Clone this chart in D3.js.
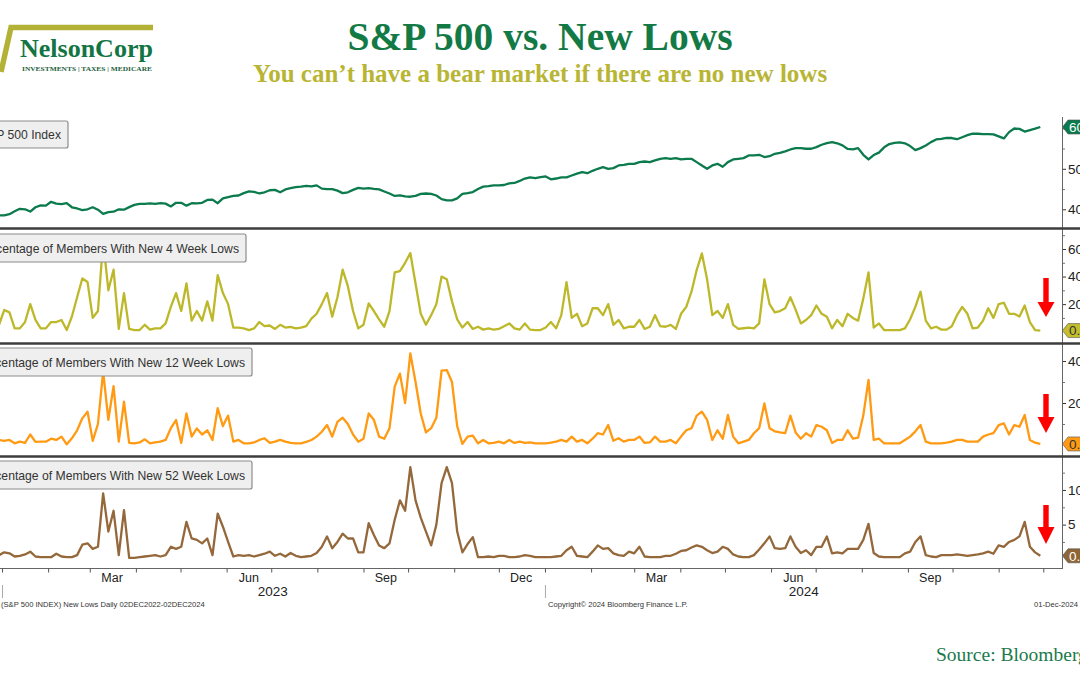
<!DOCTYPE html>
<html><head><meta charset="utf-8">
<script src="https://cdn.jsdelivr.net/npm/d3@7"></script>
<style>html,body{margin:0;padding:0;background:#fff;}svg{display:block;}</style>
</head><body>
<svg id="chart" width="1080" height="675"></svg>
<script>
// ---------------- DATA ----------------
const startDate = "2022-12-02";          // first observation
const stepHours = 84;                     // observations every 3.5 days
const snpValues = [
4070,3990,3935,3995,3895,3852,3822,3840,3848,3848,3880,3950,4012,4000,3945,4050,4095,4090,4185,4140,
4130,4150,4050,4020,3980,4000,4050,3990,3889,3930,3940,4000,3990,4054,4110,4136,4136,4145,4136,4150,
4140,4070,4160,4160,4090,4150,4145,4160,4230,4240,4150,4270,4300,4330,4340,4400,4440,4430,4390,4420,
4470,4480,4420,4490,4520,4545,4560,4580,4565,4590,4510,4500,4500,4460,4400,4420,4480,4530,4510,4525,
4505,4490,4440,4390,4330,4345,4320,4310,4330,4380,4390,4380,4340,4250,4220,4220,4270,4380,4400,4425,
4500,4560,4570,4590,4590,4600,4640,4650,4700,4760,4790,4770,4794,4810,4740,4760,4790,4790,4835,4880,
4920,4890,4950,5000,5041,5000,5017,5082,5098,5123,5123,5165,5180,5165,5206,5247,5263,5247,5263,5230,
5247,5247,5165,5082,5000,5082,5123,5050,5165,5230,5247,5263,5329,5329,5345,5290,5310,5370,5395,5430,
5477,5510,5510,5495,5495,5535,5593,5634,5658,5630,5577,5490,5480,5510,5345,5230,5340,5400,5530,5610,
5640,5650,5630,5560,5460,5510,5577,5658,5724,5741,5765,5760,5730,5780,5830,5870,5865,5856,5856,5850,
5800,5750,5905,5995,5985,5920,5955,5990,6032];
const lows4wValues = [
3,5,8,4,3,6,10,8,5,15.7,14,2.4,2.4,7,20,8.5,2.4,2.4,7,7,
8.5,1.2,11,25,38.6,36,10,15,66,30,45,2,28,2,1.2,1.2,5,1.5,2.4,2.4,
6,18,28,15,35,8,15,8,22,8,41,28,20,3,3,2.4,1.2,2.4,7,4,
4.5,2,5,3,3.5,2.4,3,4,9.5,13,20,28,10.9,25,45,33,15,2.4,5,20.5,
15,9,3.6,15,43,44,50,57,35,13,5,12,20,40,38,22,9,3,7,2,
3.6,1.5,2.4,1.5,2,4,6,2.4,1.5,6,1.5,1.2,1.2,3,7,2.4,12,36,10,13,
4,6,17,17,12,20,5,8.5,2.4,3.6,3.6,8.5,2,3.6,12,4,3.6,5,2,13,
18,29,44.7,56.8,38,12,15,10,20,5,2,2.5,3,2.4,6,38,20,14,15,17,
25,16,6,8.5,12,19,13,10.9,2.4,8.5,4,13,10,8,24,43,3,6,1.2,1.2,
1.2,1.2,2.4,9,18,29,8,2.4,3.6,1.5,1.5,4,12,18,13,2.4,3,8,17,10,
20,21,13,13,11,19,7,1.2,0.8];
const lows12wValues = [
2,3,2,1.5,2.5,3,2,1.5,2.4,2,2.4,0.8,1.6,1,5,1.5,1.6,1.6,3,2.4,
4,0.3,3.2,7,12.7,15.9,2,10,35,12,28,1.6,20.6,1,0.8,1.2,2.7,0.8,1.2,1.6,
2.4,8,11.9,1,15,4,7.9,5,7,2.4,17.5,9,14,1.6,2.4,0.8,0.8,1.2,2.4,3.2,
1,1.6,2.4,1.6,1,0.8,0.8,1.5,2.4,4,6.3,9.5,4,11,13,10,5,1.6,3,15,
12,4,3,8,27.8,34,20,43.6,30,15,6,8,13,35.4,35.7,30,9,0.5,4,4.5,
0.8,2.4,0.8,1,1.6,0.8,2.4,1,1.6,1,1.2,0.8,0.8,0.8,1.1,1.6,2.4,1.6,4,1.6,
2.4,0.8,3,5.6,5,9.5,2,3.2,1.6,2.4,2.4,4,1,1.2,4,1.6,1.6,2.4,0.8,4,
7,8,14,15.9,12,2.4,7,3,14.3,4,0.8,1.6,2.4,5.6,8,19.8,8,6.5,6,5.6,
14,6,3,5.6,4,9.5,8.7,7,1,2.4,2.4,7,3,3.5,14,31,2.4,3,0.8,0.8,
0.8,0.8,2.4,4,6.5,9.5,1.6,0.8,0.8,0.8,1.1,1.6,2.4,2.4,1.6,1.6,1.6,4,5,5.6,
9.5,10.3,5,9.5,8.7,14.3,2.4,1.1,0.5];
const lows52wValues = [
0.5,0.8,0.4,0.3,0.6,1.0,0.6,0.4,0.6,1.0,0.86,0.4,0.5,0.7,1.1,0.4,0.3,0.3,0.3,0.8,
0.4,0.3,0.3,0.6,2.1,2.3,1.5,1.8,9.5,4,7,0.6,7.1,0.2,0.2,0.3,0.4,0.5,0.6,0.4,
0.6,1.8,1.5,1.8,5.4,3,2.8,2.3,3,0.6,6.6,4.7,2.5,0.4,0.6,0.5,0.6,0.4,0.6,0.8,
1.1,0.5,0.8,0.4,0.9,0.5,0.3,0.4,0.5,0.9,1.8,3.3,1.6,2.5,3.7,3.0,3.0,1,1,5.2,
3.5,2,1.6,2.3,5.7,8.5,7,13.3,8.5,6,4,2,5,11,13.3,11,4,1,2.2,3.2,
0.3,0.3,0.4,0.3,0.5,0.5,0.3,0.3,0.4,0.6,0.5,0.3,0.3,0.3,0.3,0.4,0.5,1.3,1.8,0.5,
0.4,0.3,1.1,2,1.5,1.6,0.86,0.6,0.5,1.1,0.86,1.8,0.4,0.3,0.3,0.3,0.5,0.5,0.8,1.2,
1.3,1.7,2,1.8,1.3,0.9,1.1,1.8,1.5,0.7,0.4,0.3,0.3,0.6,1.4,2.3,3.3,1.6,1.5,1.6,
3.3,1.8,0.9,1.3,0.6,1.8,1.8,3.3,0.86,1.0,0.86,1.5,1.5,1.5,2.8,5.1,0.9,0.4,0.3,0.3,
0.3,0.3,0.86,1.1,2.5,3.3,0.6,0.4,0.3,0.6,0.6,0.6,0.7,0.6,0.5,0.6,0.7,0.86,1.1,0.8,
2,1.8,2.5,2.8,3.3,5.4,1.8,1,0.5];

const seriesNames = ["S&P 500 Index",
  "Percentage of Members With New 4 Week Lows",
  "Percentage of Members With New 12 Week Lows",
  "Percentage of Members With New 52 Week Lows"];
const lastValueLabels = ["6032.38", "0.81", "0.61", "0.20"];
const snpMajorTicks = [4000, 5000, 6000];
const snpMinorTicks = [4500, 5500];
const lows4wMajorTicks = [20, 40, 60];
const lows4wMinorTicks = [10, 30, 50, 70];
const lows12wMajorTicks = [20, 40];
const lows12wMinorTicks = [10, 30];
const lows52wMajorTicks = [5, 10];
const lows52wMinorTicks = [2.5, 7.5, 12.5];
const quarterLabels = ["Mar", "Jun", "Sep", "Dec", "Mar", "Jun", "Sep"];
const quarterLabelDates = ["2023-03-16","2023-06-16","2023-09-16","2023-12-16","2024-03-16","2024-06-16","2024-09-16"];
const yearLabels = ["2023", "2024"];
const yearLabelDates = ["2023-07-02", "2024-06-23"];
const yearStartDates = ["2023-01-01", "2024-01-01"];

// ---------------- LAYOUT ----------------
const svg = d3.select("#chart");
svg.append("rect").attr("width",1080).attr("height",675).attr("fill","#fff");
const parse = d3.timeParse("%Y-%m-%d");
const t0 = parse(startDate);
const dates = snpValues.map((_, i) => d3.timeHour.offset(t0, stepHours * i));

const x = d3.scaleTime()
  .domain([new Date(2023, 0, 1), new Date(2024, 11, 13, 14)])
  .range([2, 1062]);
const AXIS_X = 1062;

const panels = [
  {vals: snpValues, color:"#0b7a4c", top:118, bottom:228, dom:[3538, 6254], major:snpMajorTicks, minor:snpMinorTicks,
   box:{right:68, top:121, bottom:148}, tagFill:"#0b7a4c", tagText:"#ffffff", arrow:null},
  {vals: lows4wValues, color:"#bdb82a", top:229, bottom:343, dom:[-8.2, 74.5], major:lows4wMajorTicks, minor:lows4wMinorTicks,
   box:{right:246, top:234, bottom:262}, tagFill:"#c4bd2e", tagText:"#333333", arrow:{top:278, split:302, tip:317}},
  {vals: lows12wValues, color:"#ff9a12", top:344, bottom:456, dom:[-5.24, 48.1], major:lows12wMajorTicks, minor:lows12wMinorTicks,
   box:{right:252, top:348, bottom:376}, tagFill:"#ff9a12", tagText:"#333333", arrow:{top:394, split:417, tip:433}},
  {vals: lows52wValues, color:"#94683a", top:457, bottom:568, dom:[-1.26, 14.76], major:lows52wMajorTicks, minor:lows52wMinorTicks,
   box:{right:252, top:461, bottom:489}, tagFill:"#8f6535", tagText:"#ffffff", arrow:{top:505, split:527, tip:544}}
];

const defs = svg.append("defs");
panels.forEach((p, k) => {
  defs.append("clipPath").attr("id","clip"+k).append("rect")
    .attr("x",-60).attr("y",p.top).attr("width",AXIS_X+60).attr("height",p.bottom-p.top);
});

panels.forEach((p, k) => {
  const y = d3.scaleLinear().domain(p.dom).range([p.bottom, p.top]);
  const g = svg.append("g");
  const line = d3.line().x((d,i)=>x(dates[i])).y(d=>y(d)).curve(d3.curveLinear);
  g.append("path").datum(p.vals).attr("clip-path","url(#clip"+k+")")
    .attr("fill","none").attr("stroke",p.color).attr("stroke-width",2.3)
    .attr("stroke-linejoin","round").attr("d",line);

  const lv = p.vals[p.vals.length-1];
  const ty = y(lv);

  // right axis: major ticks with labels (labels hidden where the last-value tag covers them)
  const ax = d3.axisRight(y).tickValues(p.major).tickSize(4).tickPadding(2)
    .tickFormat(d => Math.abs(y(d) - ty) < 12 ? "" : d3.format("d")(d));
  const ag = svg.append("g").attr("transform",`translate(${AXIS_X},0)`).call(ax);
  ag.select(".domain").remove();
  ag.selectAll(".tick line").attr("stroke","#333");
  ag.selectAll(".tick text").attr("font-family","Liberation Sans, Arial, sans-serif")
    .attr("font-size",13.5).attr("fill","#222");
  const mx = d3.axisRight(y).tickValues(p.minor).tickSize(3).tickFormat("");
  const mg = svg.append("g").attr("transform",`translate(${AXIS_X},0)`).call(mx);
  mg.select(".domain").remove();
  mg.selectAll(".tick line").attr("stroke","#777");

  // legend box
  const bx = p.box;
  svg.append("rect").attr("x",-40).attr("y",bx.top).attr("width",bx.right+40).attr("height",bx.bottom-bx.top)
    .attr("rx",2).attr("fill","#efefef").attr("stroke","#8c8c8c").attr("stroke-width",1.2);
  svg.append("text").attr("x",bx.right-7).attr("y",(bx.top+bx.bottom)/2+4.5)
    .attr("text-anchor","end").attr("font-family","Liberation Sans, Arial, sans-serif")
    .attr("font-size",12.2).attr("fill","#333").text(seriesNames[k]);

  // last-value tag
  svg.append("path")
    .attr("d",`M${AXIS_X+0.5},${ty} L${AXIS_X+6},${ty-7} L1090,${ty-7} L1090,${ty+7} L${AXIS_X+6},${ty+7} Z`)
    .attr("fill",p.tagFill).attr("stroke","#555").attr("stroke-width",0.6);
  svg.append("text").attr("x",AXIS_X+7).attr("y",ty+4.8)
    .attr("font-family","Liberation Sans, Arial, sans-serif").attr("font-size",13.5)
    .attr("fill",p.tagText).text(lastValueLabels[k]);

  // red arrow annotation
  if (p.arrow) {
    const a = p.arrow, cx = 1046;
    svg.append("path")
      .attr("d",`M${cx-2.7},${a.top} L${cx+2.7},${a.top} L${cx+2.7},${a.split} L${cx+8.5},${a.split} L${cx},${a.tip} L${cx-8.5},${a.split} L${cx-2.7},${a.split} Z`)
      .attr("fill","#ff0000");
  }
});

// right axis line
svg.append("line").attr("x1",AXIS_X+0.5).attr("x2",AXIS_X+0.5).attr("y1",117).attr("y2",569)
  .attr("stroke","#666").attr("stroke-width",1);

// separators
[228.5, 343.5, 456.5].forEach(yy => {
  svg.append("line").attr("x1",0).attr("x2",1080).attr("y1",yy).attr("y2",yy)
    .attr("stroke","#3d3d3d").attr("stroke-width",2.6);
});

// bottom time axis
const xa = d3.axisBottom(x)
  .tickValues(d3.timeMonth.range(new Date(2023,0,1), new Date(2024,11,14)))
  .tickSize(4).tickFormat("");
const xg = svg.append("g").attr("transform","translate(0,568.5)").call(xa);
xg.select(".domain").attr("stroke","#666").attr("d","M0,0H"+AXIS_X);
xg.selectAll(".tick line").attr("stroke","#555");

svg.append("g").selectAll("text").data(quarterLabels).join("text")
  .attr("x",(d,i)=>x(parse(quarterLabelDates[i]))).attr("y",582)
  .attr("text-anchor","middle").attr("font-family","Liberation Sans, Arial, sans-serif")
  .attr("font-size",12.5).attr("fill","#222").text(d=>d);
svg.append("g").selectAll("text").data(yearLabels).join("text")
  .attr("x",(d,i)=>x(parse(yearLabelDates[i]))).attr("y",596)
  .attr("text-anchor","middle").attr("font-family","Liberation Sans, Arial, sans-serif")
  .attr("font-size",13.5).attr("fill","#222").text(d=>d);
svg.append("g").selectAll("line").data(yearStartDates).join("line")
  .attr("x1",d=>x(parse(d))+0.5).attr("x2",d=>x(parse(d))+0.5)
  .attr("y1",585).attr("y2",598).attr("stroke","#aaa").attr("stroke-width",1);

// footers
const foot = (tx, xx, anchor) => svg.append("text").attr("x",xx).attr("y",607)
  .attr("text-anchor",anchor||"start").attr("font-family","Liberation Sans, Arial, sans-serif")
  .attr("font-size",7.6).attr("fill","#333").text(tx);
foot("(S&P 500 INDEX) New Lows  Daily 02DEC2022-02DEC2024", 1);
foot("Copyright\u00A9 2024 Bloomberg Finance L.P.", 548);
foot("01-Dec-2024", 1034);

// header / logo
svg.append("path").attr("d","M1,72 L11,27.5 L153,27.5").attr("fill","none")
  .attr("stroke","#b4b236").attr("stroke-width",5.5).attr("stroke-linejoin","miter");
svg.append("text").attr("x",20).attr("y",57).attr("font-family","Liberation Serif, Times New Roman, serif")
  .attr("font-weight","bold").attr("font-size",26).attr("fill","#127543").text("NelsonCorp");
svg.append("text").attr("x",22).attr("y",71).attr("font-family","Liberation Serif, Times New Roman, serif")
  .attr("font-weight","bold").attr("font-size",6.6).attr("fill","#1d5e3c")
  .attr("textLength",130).attr("lengthAdjust","spacingAndGlyphs").text("INVESTMENTS | TAXES | MEDICARE");

svg.append("text").attr("x",540).attr("y",50).attr("text-anchor","middle")
  .attr("font-family","Liberation Serif, Times New Roman, serif").attr("font-weight","bold")
  .attr("font-size",39.5).attr("fill","#137a45").text("S&P 500 vs. New Lows");
svg.append("text").attr("x",540).attr("y",82).attr("text-anchor","middle")
  .attr("font-family","Liberation Serif, Times New Roman, serif").attr("font-weight","bold")
  .attr("font-size",25).attr("fill","#b8b535").text("You can\u2019t have a bear market if there are no new lows");
svg.append("text").attr("x",936).attr("y",661)
  .attr("font-family","Liberation Serif, Times New Roman, serif")
  .attr("font-size",19.5).attr("fill","#1b7a4c").text("Source: Bloomberg");
</script>
</body></html>
